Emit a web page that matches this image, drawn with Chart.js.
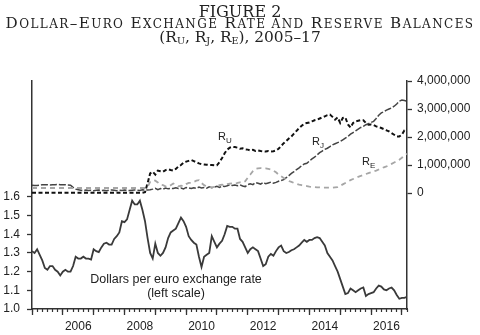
<!DOCTYPE html>
<html>
<head>
<meta charset="utf-8">
<script src="https://cdn.jsdelivr.net/npm/chart.js@4.4.1/dist/chart.umd.min.js"></script>
<style>
  html, body { margin: 0; padding: 0; background: #fff; }
  #wrap { position: relative; width: 480px; height: 335px; overflow: hidden; }
  #chart { position: absolute; left: 0; top: 0; }
  .t { position: absolute; left: 0; width: 480px; text-align: center; font-family: "DejaVu Serif", serif; color: #222; line-height: 1; white-space: nowrap; }
  .t sub { font-size: 0.62em; vertical-align: -0.25em; line-height: 0; }
  .t .sc { font-size: 12px; }
  .lbl { position: absolute; font-family: "Liberation Sans", Arial, sans-serif; color: #222; line-height: 1; white-space: nowrap; }
  .lbl sub { font-size: 8px; vertical-align: -3px; line-height: 0; }
</style>
</head>
<body>
<div id="wrap">
  <canvas id="chart" width="480" height="335"></canvas>
  <div class="t" style="top:4px; font-size:16px;">FIGURE 2</div>
  <div class="t" style="top:16px; font-size:15.2px; letter-spacing:1.4px;">D<span class="sc">OLLAR</span>–E<span class="sc">URO</span> E<span class="sc">XCHANGE</span> R<span class="sc">ATE AND</span> R<span class="sc">ESERVE</span> B<span class="sc">ALANCES</span></div>
  <div class="t" style="top:30px; font-size:15.4px;">(R<sub>U</sub>, R<sub>J</sub>, R<sub>E</sub>), 2005–17</div>

  <div class="lbl" style="left:218px; top:131px; font-size:11px;">R<sub>U</sub></div>
  <div class="lbl" style="left:312px; top:136px; font-size:11px;">R<sub>J</sub></div>
  <div class="lbl" style="left:362px; top:156px; font-size:11px;">R<sub>E</sub></div>
  <div class="lbl" style="left:76px; width:200px; text-align:center; top:273px; font-size:12.5px;">Dollars per euro exchange rate<br><span style="line-height:15px">(left scale)</span></div>
</div>
<script>
// monthly data, Jan 2005 .. Mar 2017 (index 0 = Jan 2005)
const startYear = 2005;

// dollars per euro
const exchangeRate = [
  1.31, 1.30, 1.32, 1.29, 1.26, 1.22, 1.21, 1.23, 1.23, 1.21, 1.20, 1.18,
  1.20, 1.21, 1.20, 1.20, 1.23, 1.28, 1.27, 1.27, 1.28, 1.27, 1.27, 1.265,
  1.32, 1.31, 1.305, 1.33, 1.35, 1.355, 1.345, 1.345, 1.375, 1.39, 1.41, 1.47,
  1.465, 1.48, 1.53, 1.58, 1.56, 1.56, 1.58, 1.53, 1.47, 1.38, 1.30, 1.27,
  1.35, 1.30, 1.285, 1.30, 1.33, 1.38, 1.41, 1.42, 1.43, 1.46, 1.49, 1.47,
  1.44, 1.39, 1.37, 1.355, 1.345, 1.28, 1.225, 1.28, 1.29, 1.30, 1.39, 1.36,
  1.33, 1.35, 1.365, 1.40, 1.445, 1.44, 1.44, 1.43, 1.43, 1.375, 1.36, 1.33,
  1.30, 1.32, 1.33, 1.32, 1.31, 1.27, 1.23, 1.24, 1.28, 1.295, 1.285, 1.31,
  1.33, 1.34, 1.31, 1.30, 1.305, 1.315, 1.32, 1.33, 1.34, 1.355, 1.37, 1.36,
  1.37, 1.37, 1.38, 1.385, 1.38, 1.36, 1.34, 1.30, 1.28, 1.26, 1.23, 1.20,
  1.16, 1.12, 1.08, 1.085, 1.11, 1.10, 1.09, 1.10, 1.11, 1.115, 1.07, 1.08,
  1.085, 1.09, 1.11, 1.125, 1.12, 1.105, 1.10, 1.11, 1.115, 1.10, 1.075, 1.055,
  1.06, 1.06, 1.065
];

// reserve balances, in millions (right scale)
const reservesUS = [
  0.01, 0.01, 0.01, 0.01, 0.01, 0.01, 0.01, 0.01, 0.01, 0.01, 0.01, 0.01,
  0.01, 0.01, 0.01, 0.01, 0.01, 0.01, 0.01, 0.01, 0.01, 0.01, 0.01, 0.01,
  0.01, 0.01, 0.01, 0.01, 0.01, 0.01, 0.01, 0.01, 0.01, 0.01, 0.01, 0.01,
  0.01, 0.01, 0.01, 0.01, 0.01, 0.01, 0.01, 0.01, 0.03, 0.35, 0.70, 0.76,
  0.66, 0.80, 0.78, 0.76, 0.82, 0.85, 0.82, 0.80, 0.86, 0.95, 1.00, 1.08,
  1.12, 1.15, 1.18, 1.14, 1.10, 1.06, 1.03, 1.02, 1.01, 1.00, 1.00, 0.99,
  0.99, 1.10, 1.25, 1.42, 1.55, 1.62, 1.65, 1.64, 1.62, 1.58, 1.60, 1.56,
  1.55, 1.52, 1.54, 1.50, 1.52, 1.50, 1.49, 1.48, 1.50, 1.48, 1.49, 1.52,
  1.58, 1.68, 1.78, 1.86, 1.95, 2.02, 2.12, 2.22, 2.32, 2.40, 2.48, 2.50,
  2.52, 2.56, 2.60, 2.62, 2.66, 2.70, 2.74, 2.78, 2.80, 2.72, 2.62, 2.70,
  2.50, 2.68, 2.70, 2.45, 2.34, 2.50, 2.56, 2.58, 2.60, 2.60, 2.50, 2.44,
  2.45, 2.43, 2.38, 2.35, 2.32, 2.28, 2.24, 2.20, 2.14, 2.08, 2.02, 2.02,
  2.08, 2.24, 2.27
];

const reservesJP = [
  0.28, 0.27, 0.27, 0.28, 0.30, 0.30, 0.30, 0.29, 0.30, 0.30, 0.31, 0.30,
  0.30, 0.30, 0.29, 0.28, 0.20, 0.14, 0.12, 0.10, 0.08, 0.11, 0.09, 0.10,
  0.08, 0.10, 0.11, 0.09, 0.10, 0.08, 0.10, 0.11, 0.10, 0.08, 0.10, 0.09,
  0.11, 0.10, 0.09, 0.10, 0.11, 0.10, 0.09, 0.12, 0.10, 0.11, 0.12, 0.14,
  0.17, 0.12, 0.16, 0.14, 0.18, 0.15, 0.17, 0.16, 0.19, 0.16, 0.18, 0.15,
  0.20, 0.18, 0.16, 0.19, 0.17, 0.21, 0.18, 0.20, 0.17, 0.22, 0.19, 0.21,
  0.24, 0.20, 0.25, 0.23, 0.26, 0.30, 0.27, 0.29, 0.26, 0.29, 0.25, 0.23,
  0.30, 0.33, 0.30, 0.37, 0.35, 0.32, 0.38, 0.33, 0.36, 0.39, 0.35, 0.38,
  0.42, 0.45, 0.48, 0.55, 0.62, 0.70, 0.76, 0.84, 0.90, 0.98, 1.04, 1.06,
  1.14, 1.22, 1.28, 1.36, 1.44, 1.50, 1.56, 1.60, 1.66, 1.72, 1.76, 1.80,
  1.84, 1.90, 1.96, 2.02, 2.10, 2.16, 2.22, 2.28, 2.34, 2.38, 2.44, 2.48,
  2.52, 2.56, 2.66, 2.78, 2.86, 2.90, 2.96, 3.00, 3.04, 3.10, 3.18, 3.28,
  3.32, 3.30, 3.28
];

const reservesEU = [
  0.18, 0.18, 0.18, 0.18, 0.18, 0.18, 0.18, 0.18, 0.18, 0.18, 0.18, 0.18,
  0.18, 0.18, 0.18, 0.18, 0.18, 0.18, 0.18, 0.18, 0.18, 0.18, 0.18, 0.18,
  0.18, 0.18, 0.18, 0.18, 0.18, 0.18, 0.18, 0.18, 0.18, 0.18, 0.18, 0.18,
  0.18, 0.18, 0.18, 0.18, 0.18, 0.18, 0.18, 0.18, 0.18, 0.22, 0.40, 0.46,
  0.44, 0.38, 0.30, 0.28, 0.24, 0.22, 0.28, 0.34, 0.30, 0.24, 0.26, 0.25,
  0.32, 0.36, 0.36, 0.40, 0.44, 0.46, 0.36, 0.28, 0.24, 0.21, 0.20, 0.22,
  0.24, 0.28, 0.30, 0.28, 0.32, 0.34, 0.35, 0.33, 0.36, 0.38, 0.37, 0.42,
  0.55, 0.66, 0.78, 0.86, 0.88, 0.89, 0.88, 0.88, 0.86, 0.84, 0.80, 0.74,
  0.66, 0.60, 0.54, 0.48, 0.43, 0.40, 0.36, 0.33, 0.30, 0.28, 0.26, 0.25,
  0.23, 0.22, 0.21, 0.20, 0.20, 0.19, 0.19, 0.19, 0.19, 0.19, 0.20, 0.21,
  0.26, 0.31, 0.36, 0.41, 0.46, 0.50, 0.54, 0.58, 0.61, 0.65, 0.68, 0.71,
  0.74, 0.77, 0.80, 0.84, 0.88, 0.92, 0.95, 0.99, 1.04, 1.09, 1.13, 1.19,
  1.26, 1.35, 1.40
];

const leftTicks = [1.0, 1.1, 1.2, 1.3, 1.4, 1.5, 1.6];
const rightTicks = [0, 1000000, 2000000, 3000000, 4000000];
const yearLabels = ['2006', '2008', '2010', '2012', '2014', '2016'];

const lastMonth = 146;
const axisColor = '#333';
const sansFont = { family: '"Liberation Sans", Arial, sans-serif', size: 12 };

function toPoints(values, scale) {
  return values.map((v, i) => ({ x: i, y: v * scale }));
}

// year boundaries get the long tick, mid-year positions carry the labels
const majorTicks = [];
for (let m = 0; m <= lastMonth; m += 6) {
  const year = String(startYear + Math.floor(m / 12));
  if (m % 12 === 0 || yearLabels.includes(year)) majorTicks.push(m);
}
const minorTicks = [];
for (let m = 0; m <= lastMonth; m += 2) minorTicks.push(m);

new Chart(document.getElementById('chart'), {
  type: 'line',
  data: {
    datasets: [
      {
        label: 'Dollars per euro',
        data: toPoints(exchangeRate, 1),
        yAxisID: 'y',
        borderColor: '#3a3a3a',
        borderWidth: 1.8,
        pointRadius: 0,
        tension: 0
      },
      {
        label: 'RE',
        data: toPoints(reservesEU, 1000000),
        yAxisID: 'y2',
        borderColor: '#a6a6a6',
        borderWidth: 1.8,
        borderDash: [5, 4],
        pointRadius: 0,
        tension: 0
      },
      {
        label: 'RJ',
        data: toPoints(reservesJP, 1000000),
        yAxisID: 'y2',
        borderColor: '#444',
        borderWidth: 1.5,
        borderDash: [7, 2],
        pointRadius: 0,
        tension: 0
      },
      {
        label: 'RU',
        data: toPoints(reservesUS, 1000000),
        yAxisID: 'y2',
        borderColor: '#111',
        borderWidth: 2,
        borderDash: [4, 2.5],
        pointRadius: 0,
        tension: 0
      }
    ]
  },
  options: {
    responsive: false,
    animation: false,
    layout: { padding: { top: 81, left: 0, right: 0, bottom: 0 } },
    plugins: {
      legend: { display: false },
      tooltip: { enabled: false }
    },
    scales: {
      x: {
        type: 'linear',
        min: 0,
        max: lastMonth,
        weight: 1,
        afterBuildTicks: (scale) => { scale.ticks = majorTicks.map(v => ({ value: v })); },
        afterFit: (scale) => { scale.height = 26; },
        border: { color: axisColor, width: 1.5 },
        grid: {
          drawOnChartArea: false,
          tickLength: 6,
          tickWidth: 1.3,
          tickColor: (ctx) => (ctx.tick && ctx.tick.value % 12 === 0 ? axisColor : 'rgba(0,0,0,0)')
        },
        ticks: {
          autoSkip: false,
          maxRotation: 0,
          padding: 4,
          color: '#222',
          font: sansFont,
          callback: (v) => (v % 12 === 6 ? String(startYear + Math.floor(v / 12)) : '')
        }
      },
      xMinor: {
        type: 'linear',
        position: 'bottom',
        min: 0,
        max: lastMonth,
        weight: 0,
        afterBuildTicks: (scale) => { scale.ticks = minorTicks.map(v => ({ value: v })); },
        afterFit: (scale) => { scale.height = 0; },
        border: { display: false },
        grid: { drawOnChartArea: false, tickLength: 3, tickWidth: 1.2, tickColor: axisColor },
        ticks: { autoSkip: false, maxRotation: 0, callback: () => '' }
      },
      y: {
        type: 'linear',
        position: 'left',
        min: 1.0,
        max: 2.221,
        afterBuildTicks: (scale) => { scale.ticks = leftTicks.map(v => ({ value: v })); },
        afterFit: (scale) => { scale.width = 32; },
        border: { color: axisColor, width: 1.5 },
        grid: { drawOnChartArea: false, tickLength: 5, tickWidth: 1.3, tickColor: axisColor },
        ticks: {
          padding: 7,
          color: '#222',
          font: sansFont,
          callback: (v) => v.toFixed(1)
        }
      },
      y2: {
        type: 'linear',
        position: 'right',
        min: -4140000,
        max: 4000000,
        afterBuildTicks: (scale) => { scale.ticks = rightTicks.map(v => ({ value: v })); },
        afterFit: (scale) => { scale.width = 73; },
        border: { color: axisColor, width: 1.5 },
        grid: { drawOnChartArea: false, tickLength: 5, tickWidth: 1.3, tickColor: axisColor },
        ticks: {
          padding: 5,
          color: '#222',
          font: sansFont,
          callback: (v) => v.toLocaleString('en-US')
        }
      }
    }
  }
});
</script>
</body>
</html>
